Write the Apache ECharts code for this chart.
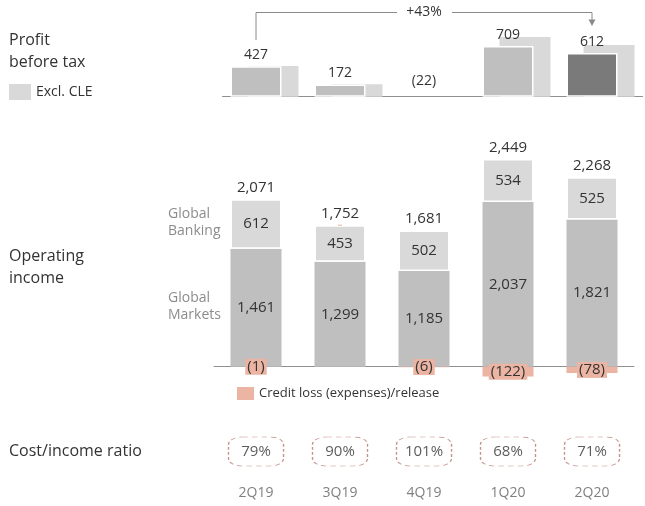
<!DOCTYPE html>
<html>
<head>
<meta charset="utf-8">
<script src="https://cdn.jsdelivr.net/npm/echarts@6/dist/echarts.min.js"></script>
<style>
  html, body { margin: 0; padding: 0; background: #fff; }
  #main { width: 645px; height: 506px; }
</style>
</head>
<body>
<div id="main"></div>
<script>
  // 数据
  var quarters = ['2Q19', '3Q19', '4Q19', '1Q20', '2Q20'];
  var profitBeforeTax = [427, 172, -22, 709, 612];
  var profitExclCle = [430, 176, -16, 835, 722];
  var globalMarkets = [1461, 1299, 1185, 2037, 1821];
  var globalBanking = [612, 453, 502, 534, 525];
  var creditLoss = [-1, 0, -6, -122, -78];
  var operatingIncome = [2071, 1752, 1681, 2449, 2268];
  var costIncomeRatio = [79, 90, 101, 68, 71];

  var FONT = '"Open Sans", "Noto Sans", sans-serif';
  var TXT = '#333';
  var PINK = '#ecb4a2';

  var fmt = function (v) {
    var s = Math.abs(v).toLocaleString('en-US');
    return v < 0 ? '(' + s + ')' : s;
  };

  var chart = echarts.init(document.getElementById('main'));

  var option = {
    animation: false,
    textStyle: { fontFamily: FONT },
    grid: [
      { left: 222.5, width: 420, top: 25.2, height: 75.1 },
      { left: 214, width: 420, top: 124.3, height: 258.6 },
      { left: 214, width: 420, top: 431, height: 41 }
    ],
    xAxis: [
      { type: 'category', gridIndex: 0, data: quarters,
        axisLine: { lineStyle: { color: '#8f8f8f' } },
        axisTick: { show: false }, axisLabel: { show: false } },
      { type: 'category', gridIndex: 1, data: quarters,
        axisLine: { lineStyle: { color: '#8f8f8f' } },
        axisTick: { show: false }, axisLabel: { show: false } },
      { type: 'category', gridIndex: 2, data: quarters,
        axisLine: { show: false }, axisTick: { show: false },
        axisLabel: { color: '#808080', fontSize: 14, margin: 14, fontFamily: FONT } }
    ],
    yAxis: [
      { type: 'value', gridIndex: 0, min: -50, max: 1000, show: false },
      { type: 'value', gridIndex: 1, min: -200, max: 3000, show: false },
      { type: 'category', gridIndex: 2, data: ['ratio'], show: false }
    ],
    legend: [
      { data: ['Excl. CLE'], left: 9, top: 84, padding: 0, itemWidth: 22, itemHeight: 16,
        icon: 'rect', selectedMode: false,
        textStyle: { color: TXT, fontSize: 14, fontFamily: FONT } },
      { data: ['Credit loss (expenses)/release'], left: 237, top: 387, padding: 0,
        itemWidth: 17, itemHeight: 13, icon: 'rect', selectedMode: false,
        textStyle: { color: TXT, fontSize: 13, fontFamily: FONT } }
    ],
    series: [
      {
        name: 'Profit before tax', type: 'bar', xAxisIndex: 0, yAxisIndex: 0,
        barWidth: 51, barGap: '-66.67%', z: 3,
        data: profitBeforeTax.map(function (v) {
          return v < 0
            ? { value: v, itemStyle: { color: 'transparent', borderWidth: 0 }, label: { distance: 9 } }
            : v;
        }),
        itemStyle: {
          color: function (p) { return p.dataIndex === quarters.length - 1 ? '#7a7a7a' : '#bfbfbf'; },
          borderColor: '#fff', borderWidth: 1.5
        },
        label: { show: true, position: 'top', distance: 4, color: TXT, fontSize: 14,
          formatter: function (p) { return fmt(p.value); } }
      },
      {
        name: 'Excl. CLE', type: 'bar', xAxisIndex: 0, yAxisIndex: 0,
        barWidth: 51, z: 2,
        data: profitExclCle.map(function (v) {
          return v < 0 ? { value: v, itemStyle: { color: 'transparent' } } : v;
        }),
        itemStyle: { color: '#d9d9d9' }
      },
      {
        name: 'Global Markets', type: 'bar', xAxisIndex: 1, yAxisIndex: 1,
        stack: 'oi', barWidth: 51, data: globalMarkets,
        itemStyle: { color: '#bfbfbf' },
        label: { show: true, position: 'inside', color: TXT, fontSize: 15,
          formatter: function (p) { return fmt(p.value); } }
      },
      {
        name: 'Global Banking', type: 'bar', xAxisIndex: 1, yAxisIndex: 1,
        stack: 'oi', barWidth: 51, data: globalBanking,
        itemStyle: { color: '#d9d9d9', borderColor: '#fff', borderWidth: 1.5 },
        label: { show: true, position: 'inside', color: TXT, fontSize: 15,
          formatter: function (p) { return fmt(p.value); } }
      },
      {
        name: 'Operating income', type: 'bar', xAxisIndex: 1, yAxisIndex: 1,
        stack: 'oi', barWidth: 51, data: quarters.map(function () { return 0; }),
        itemStyle: { color: 'transparent' },
        label: { show: true, position: 'top', distance: 4, color: TXT, fontSize: 15,
          formatter: function (p) { return fmt(operatingIncome[p.dataIndex]); } }
      },
      {
        name: 'Credit loss (expenses)/release', type: 'bar', xAxisIndex: 1, yAxisIndex: 1,
        stack: 'oi', barWidth: 51, data: creditLoss,
        itemStyle: { color: PINK },
        label: { show: true, position: 'inside', color: TXT, fontSize: 15,
          backgroundColor: PINK, padding: [1, 2, 0, 2],
          formatter: function (p) { return p.value === 0 ? '' : fmt(p.value); } }
      },
      {
        name: 'Cost/income ratio', type: 'scatter', xAxisIndex: 2, yAxisIndex: 2,
        symbol: 'roundRect', symbolSize: [55, 29],
        data: costIncomeRatio.map(function (v, i) { return [quarters[i], 'ratio', v]; }),
        itemStyle: { color: '#fff', borderColor: '#b8766c', borderWidth: 1, borderType: [4, 3] },
        label: { show: true, position: 'inside', color: TXT, fontSize: 15,
          formatter: function (p) { return p.value[2] + '%'; } }
      }
    ]
  };

  chart.setOption(option);

  // 标注 +43% 箭头 (位置取自坐标轴)
  var xFrom = chart.convertToPixel({ xAxisIndex: 1 }, quarters[0]);
  var xTo = chart.convertToPixel({ xAxisIndex: 1 }, quarters[4]);
  var xMid = (xFrom + xTo) / 2;
  var lineY = 12.5;
  var lineStyle = { stroke: '#8a8a8a', lineWidth: 1, fill: null };

  chart.setOption({
    graphic: [
      { type: 'text', left: 9, top: 29,
        style: { text: 'Profit\nbefore tax', fontSize: 16, lineHeight: 22, fontFamily: FONT, fill: TXT } },
      { type: 'text', left: 9, top: 245,
        style: { text: 'Operating\nincome', fontSize: 16, lineHeight: 22, fontFamily: FONT, fill: TXT } },
      { type: 'text', left: 9, top: 440,
        style: { text: 'Cost/income ratio', fontSize: 16, lineHeight: 22, fontFamily: FONT, fill: TXT } },
      { type: 'text', left: 168, top: 206,
        style: { text: 'Global\nBanking', fontSize: 14, lineHeight: 17, fontFamily: FONT, fill: '#8c8c8c' } },
      { type: 'text', left: 168, top: 290,
        style: { text: 'Global\nMarkets', fontSize: 14, lineHeight: 17, fontFamily: FONT, fill: '#8c8c8c' } },
      { type: 'polyline', shape: { points: [[xFrom, 40], [xFrom, lineY], [xMid - 27, lineY]] }, style: lineStyle },
      { type: 'polyline', shape: { points: [[xMid + 28, lineY], [xTo, lineY], [xTo, 21]] }, style: lineStyle },
      { type: 'polygon', shape: { points: [[xTo - 3.5, 19.5], [xTo + 3.5, 19.5], [xTo, 26]] },
        style: { fill: '#8a8a8a' } },
      { type: 'text', x: xMid, y: lineY,
        style: { text: '+43%', fontSize: 14, fontFamily: FONT, fill: TXT, align: 'center', verticalAlign: 'middle' } }
    ]
  });
</script>
</body>
</html>
